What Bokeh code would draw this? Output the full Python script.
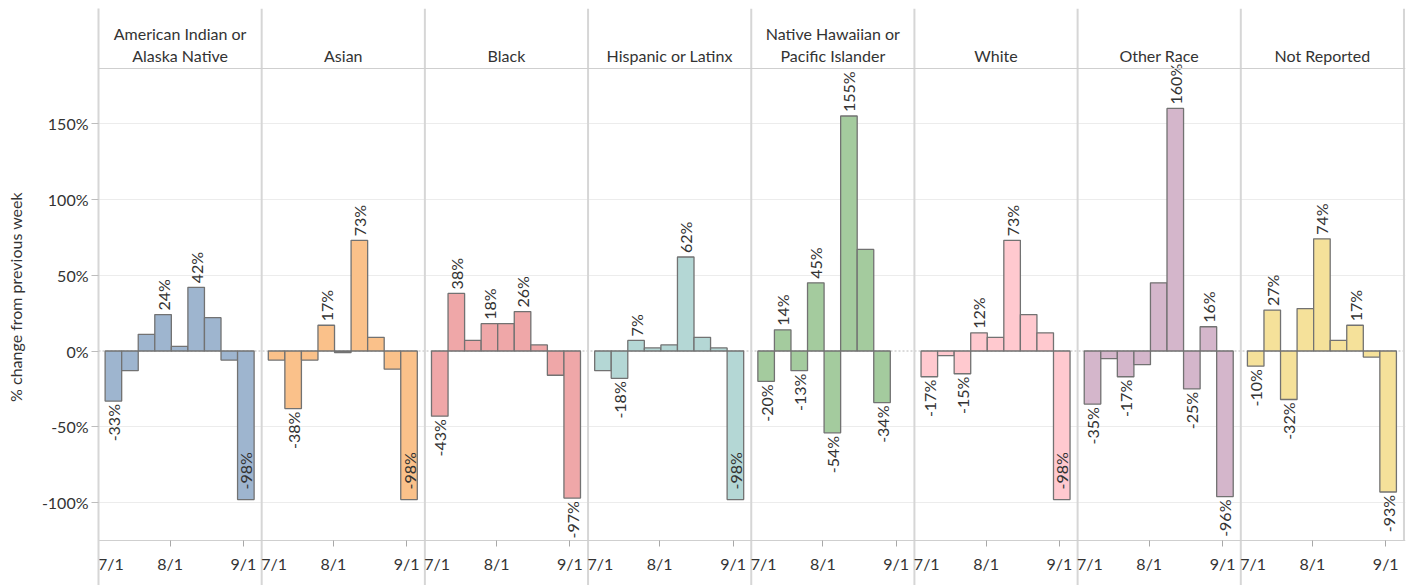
import math
from bokeh.plotting import figure
from bokeh.models import Range1d, FixedTicker, LinearAxis, Grid, Span, ColumnDataSource
from bokeh.core.properties import value
from bokeh.embed import file_html
from bokeh.resources import INLINE

# ---------------- data ----------------
groups = ["American Indian or\nAlaska Native", "Asian", "Black", "Hispanic or Latinx",
          "Native Hawaiian or\nPacific Islander", "White", "Other Race", "Not Reported"]
# week centres, days after 7/1
week_days = [7, 14, 21, 28, 35, 42, 49, 56, 63]
date_tick_days = [0, 31, 62]
date_tick_labels = ["7/1", "8/1", "9/1"]
y_ticks = [-100, -50, 0, 50, 100, 150]
y_tick_labels = ["-100%", "-50%", "0%", "50%", "100%", "150%"]

aian   = [-33, -13, 11, 24, 3, 42, 22, -6, -98]
asian  = [-6, -38, -6, 17, -1, 73, 9, -12, -98]
black  = [-43, 38, 7, 18, 18, 26, 4, -16, -97]
hisp   = [-13, -18, 7, 2, 4, 62, 9, 2, -98]
nhpi   = [-20, 14, -13, 45, -54, 155, 67, -34, None]
white  = [-17, -3, -15, 12, 9, 73, 24, 12, -98]
other  = [-35, -5, -17, -9, 45, 160, -25, 16, -96]
notrep = [-10, 27, -32, 28, 74, 7, 17, -4, -93]

# which bars carry a value label
aian_lab   = [0, 3, 5, 8]
asian_lab  = [1, 3, 5, 8]
black_lab  = [0, 1, 3, 5, 8]
hisp_lab   = [1, 2, 5, 8]
nhpi_lab   = [0, 1, 2, 3, 4, 5, 7]
white_lab  = [0, 2, 3, 5, 8]
other_lab  = [0, 2, 5, 6, 7, 8]
notrep_lab = [0, 1, 2, 4, 6, 8]

series = [aian, asian, black, hisp, nhpi, white, other, notrep]
labelled = [aian_lab, asian_lab, black_lab, hisp_lab, nhpi_lab, white_lab, other_lab, notrep_lab]
colors = ["#9eb5cf", "#fac18a", "#efa7a8", "#b4d7d5", "#a4cb9e", "#ffc9cf", "#d4b6cb", "#f5e19a"]

# ---------------- layout constants ----------------
FONT = "Lato"
FS = "16px"
TXT = "#333333"
PX_PER_PCT = 1.516
PX_PER_DAY = 2.365
PANEL_DAYS = 69
PAD = 0.7
TOP = 8
LEFT = 98
FRAME_W = 1307
FRAME_H = 577
Y0_PX = 342.5           # pixel distance from frame top to 0%
y_top = Y0_PX / PX_PER_PCT
y_bot = -(FRAME_H - Y0_PX) / PX_PER_PCT
y_header = (Y0_PX - 60) / PX_PER_PCT
y_axis_loc = -(532 - Y0_PX) / PX_PER_PCT
x_start = PAD
x_end = PAD + FRAME_W / PX_PER_DAY

p = figure(width=LEFT + FRAME_W + 8, height=TOP + FRAME_H, output_backend="svg", toolbar_location=None,
           x_range=Range1d(x_start, x_end), y_range=Range1d(y_bot, y_top),
           x_axis_type=None, y_axis_type=None,
           min_border_left=LEFT, min_border_right=8, min_border_top=TOP, min_border_bottom=0)
p.outline_line_color = None
p.background_fill_color = "white"
p.border_fill_color = "white"

# grid
grid = Grid(dimension=1, ticker=FixedTicker(ticks=[t for t in y_ticks if t != 0]),
            grid_line_color="#ececec", grid_line_width=1)
p.add_layout(grid)
p.add_layout(Span(location=0, dimension="width", line_color="#b8b8b8", line_dash="2 2",
                  line_width=1, level="underlay"))
p.add_layout(Span(location=y_header, dimension="width", line_color="#cfcfcf", line_width=1))

# panel separators
edges = [PANEL_DAYS * k + PAD for k in range(1, 9)]
sep_src = ColumnDataSource(dict(x=edges[:-1], y0=[y_bot] * 7, y1=[y_top] * 7))
p.segment(x0="x", y0="y0", x1="x", y1="y1", source=sep_src, line_color="#d6d6d6", line_width=2)
p.segment(x0=[edges[-1]], y0=[y_axis_loc], x1=[edges[-1]], y1=[y_top], line_color="#d6d6d6", line_width=2)

# bars
bx, btop, bcol = [], [], []
for k, vals in enumerate(series):
    for d, v in zip(week_days, vals):
        if v is None:
            continue
        bx.append(PANEL_DAYS * k + d)
        btop.append(v)
        bcol.append(colors[k])
p.vbar(x=bx, top=btop, bottom=0, width=7, fill_color=bcol, line_color="#727272", line_width=1.3)

# value labels
up = dict(x=[], y=[], t=[])
down = dict(x=[], y=[], t=[])
inside = dict(x=[], y=[], t=[])
for k, (vals, labs) in enumerate(zip(series, labelled)):
    for i in labs:
        v = vals[i]
        x = PANEL_DAYS * k + week_days[i]
        t = f"{v}%"
        if v >= 0:
            up["x"].append(x); up["y"].append(v + 4 / PX_PER_PCT); up["t"].append(t)
        elif v <= -98:
            inside["x"].append(x); inside["y"].append(v + 10 / PX_PER_PCT); inside["t"].append(t)
        else:
            down["x"].append(x); down["y"].append(v - 3 / PX_PER_PCT); down["t"].append(t)

lab_kw = dict(angle=math.pi / 2, text_font=value(FONT), text_font_size=FS, text_color=TXT,
              text_baseline="middle")
p.text(x="x", y="y", text="t", source=ColumnDataSource(up), text_align="left", **lab_kw)
p.text(x="x", y="y", text="t", source=ColumnDataSource(inside), text_align="left", **lab_kw)
p.text(x="x", y="y", text="t", source=ColumnDataSource(down), text_align="right", **lab_kw)

# headers
hx, hy, ht = [], [], []
for k, g in enumerate(groups):
    lines = g.split("\n")
    cx = PANEL_DAYS * k + PAD + PANEL_DAYS / 2
    for j, line in enumerate(reversed(lines)):
        hx.append(cx)
        hy.append((Y0_PX - (47.0 - 21.7 * j)) / PX_PER_PCT)
        ht.append(line)
p.text(x=hx, y=hy, text=ht, text_font=value(FONT), text_font_size=FS, text_color=TXT,
       text_align="center", text_baseline="alphabetic")

# y axis
yaxis = LinearAxis(ticker=FixedTicker(ticks=y_ticks),
                   major_label_overrides={t: l for t, l in zip(y_ticks, y_tick_labels)},
                   axis_label="% change from previous week",
                   axis_label_text_font=FONT, axis_label_text_font_size=FS,
                   axis_label_text_font_style="normal", axis_label_text_color=TXT,
                   axis_label_standoff=14,
                   major_label_text_font=FONT, major_label_text_font_size=FS,
                   major_label_text_color=TXT, major_label_standoff=3,
                   axis_line_color="#d6d6d6", axis_line_width=2,
                   major_tick_line_color="#bdbdbd", major_tick_out=7, major_tick_in=0,
                   minor_tick_out=0, minor_tick_in=0)
p.add_layout(yaxis, "left")

# x axis (one per-panel set of date ticks on a shared axis)
shift_71 = 14 / PX_PER_DAY - PAD  # 7/1 label sits just inside each panel
tick_pos, tick_over, minor_pos = [], {}, []
for k in range(len(groups)):
    for d, lab in zip(date_tick_days, date_tick_labels):
        pos = round(PANEL_DAYS * k + d + (PAD + shift_71 if d == 0 else 0), 4)
        tick_pos.append(pos)
        tick_over[pos] = lab
        if d != 0:
            minor_pos.append(PANEL_DAYS * k + d)
xaxis = LinearAxis(ticker=FixedTicker(ticks=tick_pos, minor_ticks=minor_pos),
                   major_label_overrides=tick_over, fixed_location=y_axis_loc,
                   major_label_text_font=FONT, major_label_text_font_size=FS,
                   major_label_text_color=TXT, major_label_standoff=7,
                   axis_line_color="#cfcfcf", axis_line_width=1,
                   major_tick_line_color=None, major_tick_out=0, major_tick_in=0,
                   minor_tick_line_color="#a8a8a8", minor_tick_out=6, minor_tick_in=0)
p.add_layout(xaxis, "below")

open("out.html", "w").write(file_html(p, INLINE))
